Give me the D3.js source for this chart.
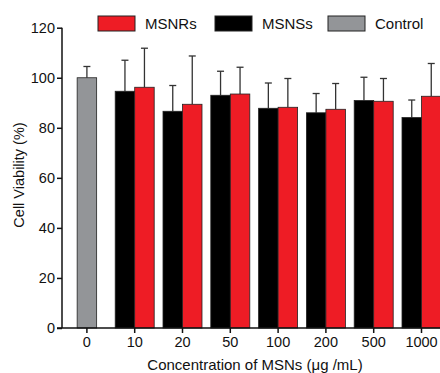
<!DOCTYPE html>
<html>
<head>
<meta charset="utf-8">
<script src="https://cdn.jsdelivr.net/npm/d3@7"></script>
<style>
  body { margin: 0; background: #fff; }
  svg { font-family: "Liberation Sans", Arial, sans-serif; }
</style>
</head>
<body>
<div id="chart"></div>
<script>
// concentrations (µg/mL), "0" is the untreated control
const categories = ["0", "10", "20", "50", "100", "200", "500", "1000"];
const controlValue = 100;
const controlError = 4.5;
const msnsValues = [94.6, 86.6, 93.0, 87.8, 86.0, 90.9, 84.1];
const msnsErrors = [12.4, 10.3, 9.6, 10.1, 7.7, 9.3, 7.0];
const msnrValues = [96.2, 89.4, 93.5, 88.2, 87.4, 90.6, 92.6];
const msnrErrors = [15.6, 19.3, 10.7, 11.5, 10.3, 9.1, 13.1];
const yTicks = [0, 20, 40, 60, 80, 100, 120];
const legendItems = [
  { name: "MSNRs", color: "#ee1c25" },
  { name: "MSNSs", color: "#000000" },
  { name: "Control", color: "#939598" }
];

const width = 440, height = 373;
const svg = d3.select('#chart').append('svg')
  .attr('width', width)
  .attr('height', height);

const x = d3.scaleBand()
  .domain(categories)
  .range([63, 63 + 8 * 47.8]);

const y = d3.scaleLinear()
  .domain([0, 120])
  .range([328, 27.7]);

const barW = 19.5;

// build bar records from the arrays
const bars = [{ cat: "0", value: controlValue, err: controlError, color: "#939598", offset: -barW / 2 }];
categories.slice(1).forEach((c, i) => {
  bars.push({ cat: c, value: msnsValues[i], err: msnsErrors[i], color: "#000000", offset: -barW });
  bars.push({ cat: c, value: msnrValues[i], err: msnrErrors[i], color: "#ee1c25", offset: 0 });
});

const cx = d => x(d.cat) + x.bandwidth() / 2 + d.offset;

// error bars (upper only) drawn first, bars on top
const eb = svg.append('g').attr('stroke', '#333').attr('stroke-width', 1.3);
bars.forEach(d => {
  const mx = cx(d) + barW / 2;
  eb.append('line').attr('x1', mx).attr('x2', mx)
    .attr('y1', y(d.value)).attr('y2', y(d.value + d.err));
  eb.append('line').attr('x1', mx - 3.5).attr('x2', mx + 3.5)
    .attr('y1', y(d.value + d.err)).attr('y2', y(d.value + d.err));
});

svg.append('g').selectAll('rect')
  .data(bars)
  .join('rect')
  .attr('x', d => cx(d))
  .attr('y', d => y(d.value))
  .attr('width', barW)
  .attr('height', d => y(0) - y(d.value))
  .attr('fill', d => d.color)
  .attr('stroke', '#222')
  .attr('stroke-width', 0.8);

// axes
const yAxis = d3.axisLeft(y).tickValues(yTicks).tickSize(5).tickPadding(2);
const gy = svg.append('g').attr('transform', 'translate(62,0)').call(yAxis);
const xAxis = d3.axisBottom(x).tickSize(5).tickPadding(4);
const gx = svg.append('g').attr('transform', 'translate(0,328)').call(xAxis);
gx.select('.domain').attr('d', 'M57,0H440');
[gx, gy].forEach(g => {
  g.selectAll('.domain, line').attr('stroke', '#111').attr('stroke-width', 1.5);
  g.selectAll('text').attr('font-size', 14.5).attr('fill', '#111')
    .attr('font-family', '"Liberation Sans", Arial, sans-serif');
});
gy.select('.domain').attr('d', 'M0,27.7V328');

svg.append('text')
  .attr('transform', 'translate(24,175) rotate(-90)')
  .attr('text-anchor', 'middle')
  .attr('font-size', 14.5)
  .attr('fill', '#111')
  .text('Cell Viability (%)');

svg.append('text')
  .attr('x', 255).attr('y', 370)
  .attr('text-anchor', 'middle')
  .attr('font-size', 15)
  .attr('fill', '#111')
  .text('Concentration of MSNs (μg /mL)');

// legend
const legendX = [98, 215, 328];
const lg = svg.append('g');
legendItems.forEach((d, i) => {
  lg.append('rect').attr('x', legendX[i]).attr('y', 16).attr('width', 37).attr('height', 15)
    .attr('fill', d.color).attr('stroke', '#222').attr('stroke-width', 1);
  lg.append('text').attr('x', legendX[i] + 47).attr('y', 29)
    .attr('font-size', 15).attr('fill', '#111').text(d.name);
});
</script>
</body>
</html>
